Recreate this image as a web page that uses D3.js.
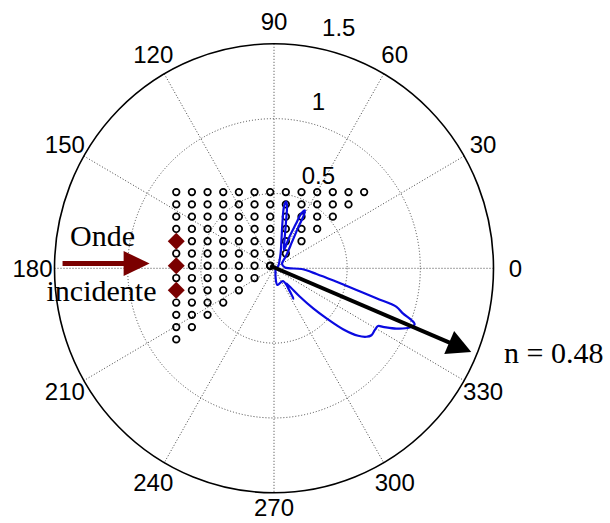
<!DOCTYPE html>
<html><head><meta charset="utf-8">
<script src="https://cdn.jsdelivr.net/npm/d3@7"></script>
<style>html,body{margin:0;padding:0;background:#fff;}svg{display:block;}</style>
</head><body>
<svg id="chart" width="610" height="523"></svg>
<script>
// ---- data ----
const rMax = 1.5;
const ringValues = [0.5, 1.0, 1.5];
const ringLabels = ["0.5", "1", "1.5"];
const spokeAngles = [0, 30, 60, 90, 120, 150, 180, 210, 240, 270, 300, 330];
const angleLabels = ["0", "30", "60", "90", "120", "150", "180", "210", "240", "270", "300", "330"];

// radiation pattern (theta in degrees, r)
const patternTheta = [24, 63.7, 75, 79.4, 80.6, 79.6, 78.2, 75.2, 69.2, 61, 63.3, 63.2, 63.1, 61.4, 60.2, 58.7, 55, 45, 28,
  4, -1.5, -7.4, -11.9, -14.4, -16, -17.1, -18.9, -20.2, -21.2, -23.1, -25.7, -27.7, -28.5, -31, -33.9, -35.9, -38.1,
  -40.8, -43, -45, -47, -48.5, -50.7, -56.6, -54.3, -78, 8];
const patternR = [0.030, 0.099, 0.197, 0.315, 0.416, 0.453, 0.433, 0.321, 0.203, 0.140, 0.227, 0.333, 0.407, 0.441, 0.412, 0.316, 0.215, 0.116, 0.062,
  0.075, 0.189, 0.293, 0.437, 0.582, 0.728, 0.876, 0.931, 1.000, 1.031, 1.008, 0.928, 0.841, 0.809, 0.803, 0.802, 0.780, 0.731,
  0.623, 0.491, 0.379, 0.260, 0.165, 0.129, 0.242, 0.105, 0.114, 0.014];

// scatterer grid (cartesian, plot units)
const gridColX = [-0.668, -0.561, -0.454, -0.347, -0.240, -0.133, -0.026, 0.081, 0.188, 0.295, 0.402, 0.509, 0.616];
const gridRowY = [0.509, 0.427, 0.345, 0.263, 0.181, 0.099, 0.017, -0.065, -0.147, -0.229, -0.311, -0.393, -0.475];
const gridRowCount = [13, 12, 11, 10, 9, 8, 7, 6, 5, 4, 3, 2, 1];
const sourceRows = [4, 6, 8];   // rows whose first element is a source (diamond)

// annotations
const incidentArrow = {x1: -1.445, y1: 0.032, x2: -0.850, y2: 0.032};
const directionArrow = {x1: -0.026, y1: 0.017, x2: 1.348, y2: -0.559};
const incidentText = ["Onde", "incidente"];
const directionText = "n = 0.48";

// ---- layout ----
const cx = 274, cy = 268.3, RX = 219.5, RY = 224.5;
const svg = d3.select("#chart");
const x = d3.scaleLinear().domain([-rMax, rMax]).range([cx - RX, cx + RX]);
const y = d3.scaleLinear().domain([-rMax, rMax]).range([cy + RY, cy - RY]);
const rad = d => d * Math.PI / 180;
const px = (t, r) => x(r * Math.cos(rad(t)));
const py = (t, r) => y(r * Math.sin(rad(t)));

const g = svg.append("g");
// spokes (full diameters)
g.selectAll("line.spoke").data(spokeAngles.filter(a => a < 180)).join("line")
  .attr("x1", a => px(a, rMax)).attr("y1", a => py(a, rMax))
  .attr("x2", a => px(a + 180, rMax)).attr("y2", a => py(a + 180, rMax))
  .attr("stroke", "#444").attr("stroke-width", 1).attr("stroke-dasharray", "1,2");
// rings
g.selectAll("ellipse.ring").data(ringValues.slice(0, -1)).join("ellipse")
  .attr("cx", x(0)).attr("cy", y(0))
  .attr("rx", d => x(d) - x(0)).attr("ry", d => y(0) - y(d))
  .attr("fill", "none").attr("stroke", "#444").attr("stroke-width", 1).attr("stroke-dasharray", "1,2");
g.append("ellipse").attr("cx", x(0)).attr("cy", y(0))
  .attr("rx", x(rMax) - x(0)).attr("ry", y(0) - y(rMax))
  .attr("fill", "none").attr("stroke", "#000").attr("stroke-width", 1.6);

// angle labels (baseline placed ~8.5px below the label centre)
g.selectAll("text.ang").data(spokeAngles).join("text")
  .attr("x", a => px(a, rMax * 1.1))
  .attr("y", a => Math.min(py(a, rMax * 1.1) + 8.5, 516))
  .attr("text-anchor", "middle")
  .attr("font-family", "Liberation Sans, Arial, sans-serif").attr("font-size", 24).attr("fill", "#000")
  .text((a, i) => angleLabels[i]);
// ring labels
g.selectAll("text.rl").data(ringValues).join("text")
  .attr("x", d => px(82, d + 0.025) + 17).attr("y", d => py(82, d + 0.025) - 6)
  .attr("font-family", "Liberation Sans, Arial, sans-serif").attr("font-size", 24).attr("fill", "#000")
  .text((d, i) => ringLabels[i]);

// scatterers
const dots = [], diamonds = [];
gridRowY.forEach((yy, ri) => {
  for (let c = 0; c < gridRowCount[ri]; c++) {
    if (c === 0 && sourceRows.includes(ri)) diamonds.push([gridColX[c], yy]);
    else dots.push([gridColX[c], yy]);
  }
});
g.selectAll("circle.dot").data(dots).join("circle")
  .attr("cx", d => x(d[0])).attr("cy", d => y(d[1])).attr("r", 3.3)
  .attr("fill", "none").attr("stroke", "#000").attr("stroke-width", 1.7);
g.selectAll("path.dia").data(diamonds).join("path")
  .attr("d", d => { const X = x(d[0]), Y = y(d[1]), s = 8.5; return `M${X},${Y - s}L${X + s},${Y}L${X},${Y + s}L${X - s},${Y}Z`; })
  .attr("fill", "#7a0000");

// pattern
const line = d3.line().x((d, i) => px(d, patternR[i])).y((d, i) => py(d, patternR[i])).curve(d3.curveCatmullRomClosed.alpha(0.5));
g.append("path").datum(patternTheta).attr("d", line)
  .attr("fill", "none").attr("stroke", "#0a0ae0").attr("stroke-width", 2.2).attr("stroke-linejoin", "round");

// arrows
function arrow(a, color, w, headLen, headHalf) {
  const X1 = x(a.x1), Y1 = y(a.y1), X2 = x(a.x2), Y2 = y(a.y2);
  const L = Math.hypot(X2 - X1, Y2 - Y1), ux = (X2 - X1) / L, uy = (Y2 - Y1) / L;
  const bx = X2 - ux * headLen, by = Y2 - uy * headLen;
  g.append("line").attr("x1", X1).attr("y1", Y1).attr("x2", bx + ux).attr("y2", by + uy)
    .attr("stroke", color).attr("stroke-width", w);
  g.append("path").attr("d", `M${X2},${Y2}L${bx - uy * headHalf},${by + ux * headHalf}L${bx + uy * headHalf},${by - ux * headHalf}Z`)
    .attr("fill", color);
}
arrow(incidentArrow, "#7a0000", 5, 26, 12.5);
arrow(directionArrow, "#000", 4, 24, 12.5);
g.append("circle").attr("cx", x(directionArrow.x1)).attr("cy", y(directionArrow.y1)).attr("r", 3.2)
  .attr("fill", "none").attr("stroke", "#000").attr("stroke-width", 1.8);

// texts
const serif = "Liberation Serif, Times New Roman, serif";
g.append("text").attr("x", 70).attr("y", 246).attr("font-family", serif).attr("font-size", 30).text(incidentText[0]);
g.append("text").attr("x", 46.5).attr("y", 300.5).attr("font-family", serif).attr("font-size", 30).text(incidentText[1]);
g.append("text").attr("x", 504).attr("y", 363).attr("font-family", serif).attr("font-size", 30).text(directionText);
</script>
</body></html>
